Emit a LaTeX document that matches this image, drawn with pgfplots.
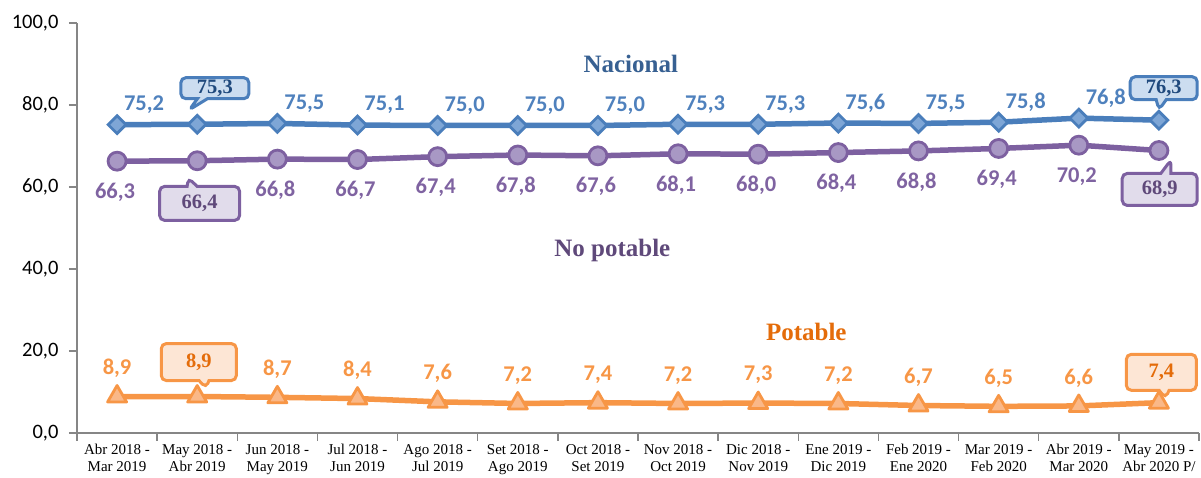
\documentclass[border=0pt]{standalone}
\usepackage{fontspec}
\setmainfont{Liberation Serif}
\newfontfamily\carlito{Carlito}
\usepackage{pgfplots}
\pgfplotsset{compat=1.18}
\usepackage{pgfplotstable}
\usetikzlibrary{shapes.callouts}

\definecolor{nacL}{HTML}{4A7EBB}
\definecolor{nacF}{HTML}{7EA6D6}
\definecolor{nacT}{HTML}{4F81BD}
\definecolor{nacD}{HTML}{1F497D}
\definecolor{nacH}{HTML}{376092}
\definecolor{nacB}{HTML}{CCDDF0}
\definecolor{purL}{HTML}{7D60A0}
\definecolor{purF}{HTML}{A898C4}
\definecolor{purT}{HTML}{7F63A1}
\definecolor{purD}{HTML}{5F497A}
\definecolor{purB}{HTML}{E1DCEB}
\definecolor{oraL}{HTML}{F79646}
\definecolor{oraF}{HTML}{FAB888}
\definecolor{oraD}{HTML}{E46C0A}
\definecolor{oraB}{HTML}{FDE6D5}
\definecolor{axgray}{HTML}{868686}

\pgfplotstableread{
x nac nacl nop nopl pot potl
0 75.2 75,2 66.3 66,3 8.9 8,9
1 75.3 {} 66.4 {} 8.9 {}
2 75.5 75,5 66.8 66,8 8.7 8,7
3 75.1 75,1 66.7 66,7 8.4 8,4
4 75.0 75,0 67.4 67,4 7.6 7,6
5 75.0 75,0 67.8 67,8 7.2 7,2
6 75.0 75,0 67.6 67,6 7.4 7,4
7 75.3 75,3 68.1 68,1 7.2 7,2
8 75.3 75,3 68.0 68,0 7.3 7,3
9 75.6 75,6 68.4 68,4 7.2 7,2
10 75.5 75,5 68.8 68,8 6.7 6,7
11 75.8 75,8 69.4 69,4 6.5 6,5
12 76.8 76,8 70.2 70,2 6.6 6,6
13 76.3 {} 68.9 {} 7.4 {}
}\datatable

\begin{document}
\begin{tikzpicture}
\begin{axis}[
  scale only axis, width=1122pt, height=410pt,
  xmin=-0.5, xmax=13.5, ymin=0, ymax=100,
  clip=false,
  axis x line*=bottom, axis y line*=left,
  axis line style={draw=axgray, line width=1.3pt},
  tick align=outside,
  ytick={0,20,...,100},
  major tick length=8pt, minor tick length=8pt,
  ytick style={draw=axgray, line width=1.3pt},
  yticklabel style={font=\carlito\fontsize{20.5}{24}\selectfont, xshift=-7pt,
    /pgf/number format/fixed, /pgf/number format/fixed zerofill,
    /pgf/number format/precision=1, /pgf/number format/use comma,
    /pgf/number format/assume math mode=true},
  xtick={0,...,13},
  major x tick style={draw=none},
  minor xtick={-0.5,0.5,...,13.5},
  minor x tick style={draw=axgray, line width=1.3pt},
  xticklabels={{Abr 2018 -\\Mar 2019},{May 2018 -\\Abr 2019},{Jun 2018 -\\May 2019},{Jul 2018 -\\Jun 2019},{Ago 2018 -\\Jul 2019},{Set 2018 -\\Ago 2019},{Oct 2018 -\\Set 2019},{Nov 2018 -\\Oct 2019},{Dic 2018 -\\Nov 2019},{Ene 2019 -\\Dic 2019},{Feb 2019 -\\Ene 2020},{Mar 2019 -\\Feb 2020},{Abr 2019 -\\Mar 2020},{May 2019 -\\Abr 2020 P/}},
  xticklabel style={align=center, font=\fontsize{15}{17}\selectfont, inner sep=1pt, yshift=-2pt},
]
\addplot[oraL, line width=5.5pt, mark=triangle*, mark size=11pt,
  mark options={fill=oraF, draw=oraL, line width=2.8pt, line join=round},
  nodes near coords, point meta=explicit symbolic,
  every node near coord/.append style={anchor=center, yshift=28pt, text=oraL,
    font=\carlito\bfseries\fontsize{22.5}{26}\selectfont}]
  table[x=x, y=pot, meta=potl]{\datatable};
\addplot[purL, line width=5.5pt, mark=*, mark size=9pt,
  mark options={fill=purF, draw=purL, line width=2.8pt},
  nodes near coords, point meta=explicit symbolic,
  every node near coord/.append style={anchor=center, yshift=-31pt, xshift=-2pt, text=purT,
    font=\carlito\bfseries\fontsize{22.5}{26}\selectfont}]
  table[x=x, y=nop, meta=nopl]{\datatable};
\addplot[nacL, line width=5.5pt, mark=square*, mark size=6.3pt,
  mark options={fill=nacF, draw=nacL, line width=2.8pt, rotate=45},
  nodes near coords, point meta=explicit symbolic,
  every node near coord/.append style={anchor=center, yshift=20pt, xshift=27pt, text=nacT,
    font=\carlito\bfseries\fontsize{22.5}{26}\selectfont}]
  table[x=x, y=nac, meta=nacl]{\datatable};

\node[font=\bfseries\fontsize{25}{30}\selectfont, text=nacH] at (axis cs:6.41,89.9) {Nacional};
\node[font=\bfseries\fontsize{25}{30}\selectfont, text=purD] at (axis cs:6.18,44.6) {No potable};
\node[font=\bfseries\fontsize{25}{30}\selectfont, text=oraD] at (axis cs:8.60,24.6) {Potable};

\tikzset{cbox/.style={rectangle callout, rounded corners=5pt, line width=3pt, inner sep=1pt,
  callout pointer width=10pt, font=\bfseries\fontsize{20.5}{24}\selectfont}}
\node[cbox, draw=nacL, fill=nacB, text=nacD, minimum width=68pt, minimum height=21pt,
  callout absolute pointer={(axis cs:0.90,78.8)}] at (axis cs:1.22,84.1) {75,3};
\node[cbox, draw=nacL, fill=nacB, text=nacD, minimum width=67pt, minimum height=23pt,
  callout absolute pointer={(axis cs:13.0,78.8)}] at (axis cs:13.06,84.1) {76,3};
\node[cbox, draw=purL, fill=purB, text=purD, minimum width=80pt, minimum height=34pt,
  callout absolute pointer={(axis cs:0.89,62.2)}] at (axis cs:1.03,56.0) {66,4};
\node[cbox, draw=purL, fill=purB, text=purD, minimum width=75pt, minimum height=32pt,
  callout absolute pointer={(axis cs:13.15,66.6)}] at (axis cs:13.01,59.4) {68,9};
\node[cbox, draw=oraL, fill=oraB, text=oraD, minimum width=75pt, minimum height=37pt,
  callout absolute pointer={(axis cs:1.11,11.0)}] at (axis cs:1.02,17.3) {8,9};
\node[cbox, draw=oraL, fill=oraB, text=oraD, minimum width=70pt, minimum height=36pt,
  callout absolute pointer={(axis cs:13.08,8.5)}] at (axis cs:13.03,14.8) {7,4};
\end{axis}
\pgfresetboundingbox
\path (-77pt,-45pt) rectangle (1124pt,433pt);
\end{tikzpicture}
\end{document}
